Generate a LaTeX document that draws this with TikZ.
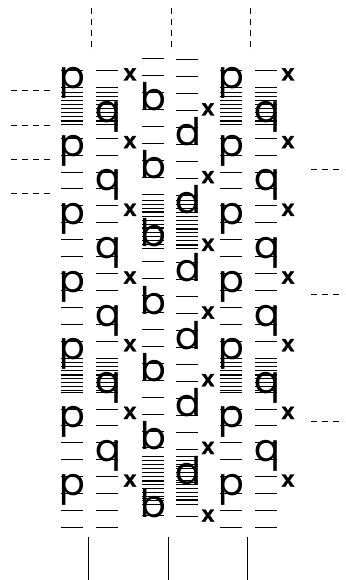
\documentclass[tikz,border=0pt]{standalone}
\usepackage{fontspec}
\setmainfont{Liberation Sans}
\newfontfamily\roundfont{Poppins}
\newfontfamily\crossfont[FakeBold=1.5]{Liberation Sans}
\begin{document}
\begin{tikzpicture}[
x=1pt, y=-1pt,
every node/.style={inner sep=0pt, anchor=base},
letter/.style={font=\fontsize{38}{38}\roundfont},
cross/.style={font=\fontsize{23}{23}\crossfont\bfseries},
rung/.style={line width=1pt},
fine rung/.style={line width=0.55pt},
marker/.style={line width=0.8pt, dash pattern=on 6pt off 5pt},
guide/.style={line width=0.8pt}
]
\useasboundingbox (0,0) rectangle (345,580);

% regular rungs in the six columns
\foreach \xc/\ph in {72/70.5, 107/70.5, 153/58.7, 187/59.8, 231/70.5, 266/70.5}
  \foreach \j in {0,...,27}
    \draw[rung] (\xc-11,\ph+16.925*\j) -- (\xc+11,\ph+16.925*\j);

% crowded bands
\foreach \xc in {72, 107, 231, 266}
  \foreach \yv in {92,96,...,124, 358,362,...,390}
    \draw[fine rung] (\xc-11,\yv) -- (\xc+11,\yv);
\foreach \xc in {153, 187}
  \foreach \yv in {200,204,...,248, 456,460,...,504}
    \draw[fine rung] (\xc-11,\yv) -- (\xc+11,\yv);

% letters and crosses
\foreach \k in {0,...,6} {
  \node[letter] (pa\k) at (72, 89+67.7*\k) {p};
  \node[letter] (pb\k) at (231, 89+67.7*\k) {p};
  \node[letter] (b\k) at (153, 111+67.7*\k) {b};
  \node[cross] (xa\k) at (130, 80.5+67.7*\k) {x};
  \node[cross] (xc\k) at (288, 80.5+67.7*\k) {x};
  \node[cross] (xb\k) at (208, 115.5+67.7*\k) {x};
}
\foreach \k in {0,...,5} {
  \node[letter] (qa\k) at (108, 123+67.7*\k) {q};
  \node[letter] (qb\k) at (267, 123+67.7*\k) {q};
  \node[letter] (d\k) at (188, 146+67.7*\k) {d};
}

% guide marks round the edge
\foreach \xv in {91, 171, 250}
  \draw[marker] (\xv,8) -- (\xv,52);
\foreach \xv in {88, 168, 247}
  \draw[guide] (\xv,537) -- (\xv,580);
\foreach \yv in {90, 125, 159, 193}
  \draw[marker] (11,\yv) -- (52,\yv);
\foreach \yv in {169, 294, 421}
  \draw[marker] (311,\yv) -- (344,\yv);
\end{tikzpicture}
\end{document}
